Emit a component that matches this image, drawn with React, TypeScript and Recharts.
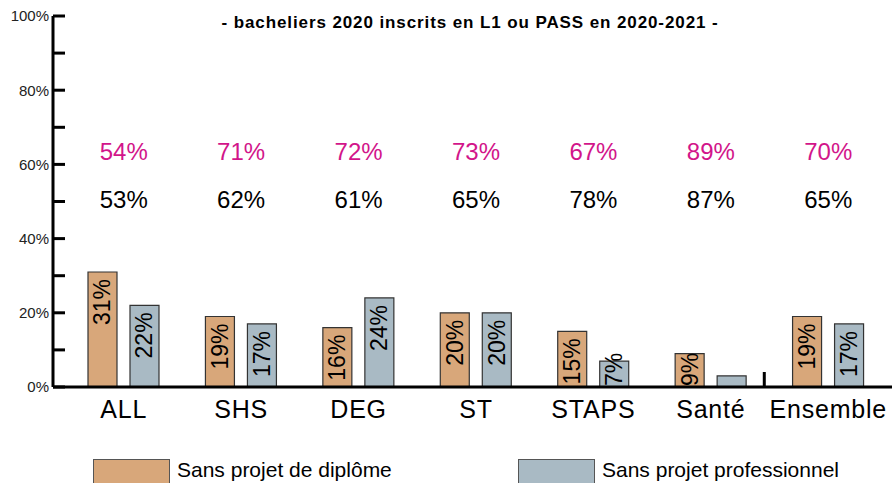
import React from 'react';
import { BarChart, Bar, XAxis, YAxis, LabelList, Legend, ReferenceDot, ReferenceLine } from 'recharts';

const categories = ['ALL', 'SHS', 'DEG', 'ST', 'STAPS', 'Santé', 'Ensemble'];
const sansDiplome = [31, 19, 16, 20, 15, 9, 19];
const sansPro = [22, 17, 24, 20, 7, 3, 17];
const topRow = ['54%', '71%', '72%', '73%', '67%', '89%', '70%'];
const secondRow = ['53%', '62%', '61%', '65%', '78%', '87%', '65%'];
const yTicks = [0, 10, 20, 30, 40, 50, 60, 70, 80, 90, 100];

const ORANGE = '#D8A77A';
const GRAY = '#A9BAC4';
const MAGENTA = '#D2158A';
const FONT = '"Liberation Sans", Arial, sans-serif';

const data = categories.map((name, i) => ({
  name,
  diplome: sansDiplome[i],
  pro: sansPro[i],
}));

function BarLabel(props: any) {
  const { x, y, width, height, value } = props;
  if (value == null || value < 5) return null;
  const text = `${value}%`;
  const fs = 23;
  const len = ((text.length - 1) * 0.556 + 0.889) * fs;
  const cx = x + width / 2;
  let ay = y + 7;
  let anchor: 'start' | 'end' = 'end';
  if (height - 7 < len) {
    ay = y + height - 1;
    anchor = 'start';
  }
  return (
    <text
      x={cx}
      y={ay}
      transform={`rotate(-90 ${cx} ${ay})`}
      textAnchor={anchor}
      dominantBaseline="central"
      fontSize={fs}
      fontFamily={FONT}
      fill="#000"
    >
      {text}
    </text>
  );
}

function CategoryTick(props: any) {
  const { x, y, payload } = props;
  return (
    <text
      x={x}
      y={y + 31}
      textAnchor="middle"
      fontSize={25}
      letterSpacing={0.8}
      fontFamily={FONT}
      fill="#000"
    >
      {payload.value}
    </text>
  );
}

function rowText(label: string, color: string) {
  return (p: any) => (
    <text
      x={p.cx}
      y={p.cy}
      textAnchor="middle"
      dominantBaseline="central"
      fontSize={24}
      fontFamily={FONT}
      fill={color}
    >
      {label}
    </text>
  );
}

function LegendBox() {
  const item = (left: number, color: string, label: string) => (
    <>
      <div
        style={{
          position: 'absolute',
          left,
          top: 1,
          width: 75,
          height: 30,
          background: color,
          border: '1px solid #555',
        }}
      />
      <span style={{ position: 'absolute', left: left + 84, top: 0, fontSize: 21, color: '#000', whiteSpace: 'nowrap' }}>
        {label}
      </span>
    </>
  );
  return (
    <div style={{ position: 'relative', width: 892, height: 30, fontFamily: FONT }}>
      {item(93, ORANGE, 'Sans projet de diplôme')}
      {item(518, GRAY, 'Sans projet professionnel')}
    </div>
  );
}

export default function App() {
  return (
    <div style={{ position: 'absolute', left: 0, top: 0, width: 892, height: 483, background: '#fff', fontFamily: FONT, overflow: 'hidden' }}>
      <div
        style={{
          position: 'absolute',
          left: 470,
          top: 13,
          transform: 'translateX(-50%)',
          fontSize: 17,
          letterSpacing: 0.9,
          fontWeight: 'bold',
          whiteSpace: 'nowrap',
          zIndex: 2,
        }}
      >
        - bacheliers 2020 inscrits en L1 ou PASS en 2020-2021 -
      </div>
      <BarChart
        width={892}
        height={483}
        data={data}
        margin={{ top: 16, right: 0, left: 0, bottom: 0 }}
        barSize={29}
        barGap={13}
      >
        <XAxis
          dataKey="name"
          height={96}
          padding={{ left: 12, right: 5 }}
          axisLine={{ stroke: '#000', strokeWidth: 3 }}
          tickLine={false}
          tickSize={0}
          tickMargin={0}
          interval={0}
          tick={<CategoryTick />}
        />
        <YAxis
          width={53}
          domain={[0, 100]}
          ticks={yTicks}
          interval={0}
          tickSize={-12}
          tickMargin={16}
          axisLine={{ stroke: '#000', strokeWidth: 3 }}
          tickLine={{ stroke: '#000', strokeWidth: 3 }}
          tick={{ fontSize: 15, fill: '#222', fontFamily: FONT }}
          tickFormatter={(v: number) => (v % 20 === 0 ? `${v}%` : '')}
        />
        <Legend
          verticalAlign="middle"
          layout="horizontal"
          wrapperStyle={{ top: 458, left: 0, width: 892 }}
          content={() => <LegendBox />}
        />
        <ReferenceLine
          x="Ensemble"
          stroke="#000"
          shape={(p: any) => {
            const bottom = Math.max(p.y1, p.y2);
            const sx = p.x1 - 64;
            return <line x1={sx} x2={sx} y1={bottom - 15} y2={bottom} stroke="#000" strokeWidth={3} />;
          }}
        />
        <Bar dataKey="diplome" name="Sans projet de diplôme" fill={ORANGE} stroke="#333" strokeWidth={1.2} isAnimationActive={false}>
          <LabelList dataKey="diplome" content={BarLabel} />
        </Bar>
        <Bar dataKey="pro" name="Sans projet professionnel" fill={GRAY} stroke="#333" strokeWidth={1.2} isAnimationActive={false}>
          <LabelList dataKey="pro" content={BarLabel} />
        </Bar>
        {categories.map((c, i) => (
          <ReferenceDot key={`t-${c}`} x={c} y={63.5} r={0} shape={rowText(topRow[i], MAGENTA)} />
        ))}
        {categories.map((c, i) => (
          <ReferenceDot key={`s-${c}`} x={c} y={50.5} r={0} shape={rowText(secondRow[i], '#000')} />
        ))}
      </BarChart>
    </div>
  );
}
